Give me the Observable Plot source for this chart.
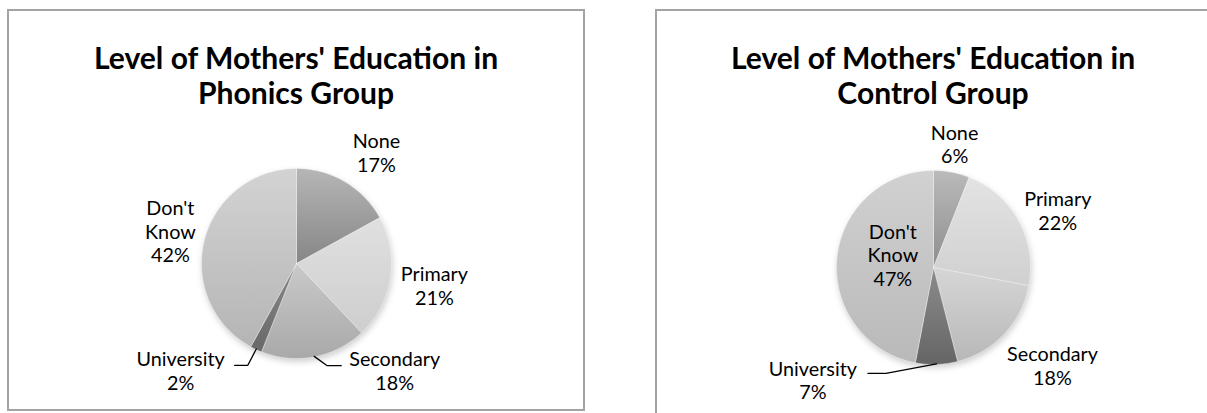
<!DOCTYPE html>
<html><head><meta charset="utf-8">
<script src="https://cdn.jsdelivr.net/npm/d3@7"></script>
<script src="https://cdn.jsdelivr.net/npm/@observablehq/plot@0.6"></script>
<style>
html,body{margin:0;padding:0;background:#fff;}
body{width:1207px;height:413px;overflow:hidden;position:relative;font-family:Lato,"Open Sans",sans-serif;}
.box{position:absolute;box-sizing:border-box;border:2px solid #a3a3a3;background:#fff;overflow:hidden;}
.title{font-family:Lato,sans-serif;font-weight:700;color:#000;text-align:center;line-height:35px;padding-top:29px;white-space:nowrap;}
.box svg{display:block;overflow:visible;}
</style></head><body>
<div id="left" class="box" style="left:7px;top:9px;width:578px;height:402px"></div>
<div id="right" class="box" style="left:655px;top:9px;width:578px;height:420px"></div>
<script>
// ---- data ----
const categories = ["None", "Primary", "Secondary", "University", "Don't Know"];
const phonicsPct = [17, 21, 18, 2, 42];
const controlPct = [6, 22, 18, 7, 47];
const phonicsTitle = ["Level of Mothers' Education in", "Phonics Group"];
const controlTitle = ["Level of Mothers' Education in", "Control Group"];

// ---- layout / style ----
const charts = [
  {id: "left", key: "ph", title: phonicsTitle, values: phonicsPct,
   w: 574, h: 299, cx: 287, cy: 153, r: 95, titleW: 574,
   label: {"None": [1.44, 5.2], "Primary": [1.47, 0.1], "Secondary": [1.53, -31.7], "University": [1.66, 22.1], "Don't Know": [1.37, -0.1]},
   leader: {"Secondary": {side: -1, gap: 8, run: 14, up: 5}, "University": {side: 1, gap: 10, run: 13, up: 5}},
   grad: [["#b6b6b6", "#868686"], ["#e0e0e0", "#cecece"], ["#c9c9c9", "#a9a9a9"], ["#8a8a8a", "#686868"], ["#d3d3d3", "#b5b5b5"]]},
  {id: "right", key: "ct", title: controlTitle, values: controlPct,
   w: 574, h: 310, cx: 276, cy: 157, r: 97, titleW: 552,
   label: {"None": [1.29, -1.1], "Primary": [1.41, 4.1], "Secondary": [1.59, -3.7], "University": [1.70, 48.8], "Don't Know": [0.44, 12.2]},
   leader: {"University": {side: 1, gap: 11, run: 18, up: 6.5}},
   grad: [["#bababa", "#8e8e8e"], ["#e3e3e3", "#d0d0d0"], ["#d6d6d6", "#b8b8b8"], ["#8c8c8c", "#656565"], ["#d1d1d1", "#b9b9b9"]]}
];

const ctx = document.createElement("canvas").getContext("2d");
function measure(text, size, weight) {
  ctx.font = `${weight} ${size}px Lato`;
  return ctx.measureText(text).width;
}
const titleSize = 28 * 405 / measure("Level of Mothers' Education in", 28, 700);
const labelSize = 20 * 91 / measure("Secondary", 20, 400);
const lineH = 23.5 / labelSize;

const deg = Math.PI / 180;

for (const c of charts) {
  const box = document.getElementById(c.id);
  const t = document.createElement("div");
  t.className = "title";
  t.style.width = c.titleW + "px";
  t.style.fontSize = titleSize + "px";
  t.innerHTML = c.title.map(s => `<div>${s.replace(/'/g, "&#39;")}</div>`).join("");
  box.appendChild(t);

  const arcs = d3.pie().sort(null).value(d => d)(c.values);
  const slices = arcs.map((a, i) => {
    const pts = [{x: 0, y: 0}];
    const n = Math.max(2, Math.ceil((a.endAngle - a.startAngle) / deg));
    for (let k = 0; k <= n; k++) {
      const ang = a.startAngle + (a.endAngle - a.startAngle) * k / n;
      pts.push({x: Math.sin(ang), y: Math.cos(ang)});
    }
    pts.push({x: 0, y: 0});
    return pts;
  });
  const circle = d3.range(0, 361, 2).map(d => ({x: Math.sin(d * deg), y: Math.cos(d * deg)}));

  const labels = arcs.map((a, i) => {
    const cat = categories[i];
    const [k, shift] = c.label[cat];
    const mid = (a.startAngle + a.endAngle) / 2 + shift * deg;
    const text = cat.replace(" ", "\n") + "\n" + c.values[i] + "%";
    return {cat, text, x: k * Math.sin(mid), y: k * Math.cos(mid), mid: (a.startAngle + a.endAngle) / 2};
  });

  const leaders = [];
  for (const l of labels) {
    const ld = c.leader[l.cat];
    if (!ld) continue;
    const hw = d3.max(l.text.split("\n"), s => measure(s, labelSize, 400)) / 2;
    const ex = l.x + ld.side * (hw + ld.gap) / c.r;
    const ey = l.y + ld.up / c.r;
    const bx = ex + ld.side * ld.run / c.r;
    leaders.push({id: l.cat, x: ex, y: ey}, {id: l.cat, x: bx, y: ey}, {id: l.cat, x: 0.995 * Math.sin(l.mid), y: 0.995 * Math.cos(l.mid)});
  }

  const marks = [
    Plot.line(circle, {x: "x", y: "y", fill: "#000", fillOpacity: 0.2, stroke: "none", dy: 3, dx: 1}),
    ...slices.map((pts, i) => Plot.line(pts, {x: "x", y: "y", fill: `url(#${c.key}-g${i})`, stroke: "#fff", strokeWidth: 0.6, strokeOpacity: 0.6})),
    Plot.line(leaders, {x: "x", y: "y", z: "id", stroke: "#000", strokeWidth: 1.3, curve: "linear"}),
    Plot.text(labels, {x: "x", y: "y", text: "text", fontSize: labelSize, lineHeight: lineH, lineAnchor: "middle", textAnchor: "middle", fill: "#000"})
  ];

  const svg = Plot.plot({
    width: c.w, height: c.h, margin: 0,
    style: {fontFamily: "Lato", background: "transparent", overflow: "visible"},
    x: {domain: [-c.cx / c.r, (c.w - c.cx) / c.r], range: [0, c.w], axis: null},
    y: {domain: [-(c.h - c.cy) / c.r, c.cy / c.r], range: [c.h, 0], axis: null},
    marks
  });
  const defs = d3.select(svg).insert("defs", ":first-child");
  c.grad.forEach(([top, bot], i) => {
    const g = defs.append("linearGradient").attr("id", `${c.key}-g${i}`).attr("x1", 0).attr("y1", 0).attr("x2", 0).attr("y2", 1);
    g.append("stop").attr("offset", "0%").attr("stop-color", top);
    g.append("stop").attr("offset", "100%").attr("stop-color", bot);
  });
  const shadow = svg.querySelector('g[aria-label="line"]');
  if (shadow) shadow.style.filter = "blur(3px)";
  box.appendChild(svg);
}
</script>
</body></html>
